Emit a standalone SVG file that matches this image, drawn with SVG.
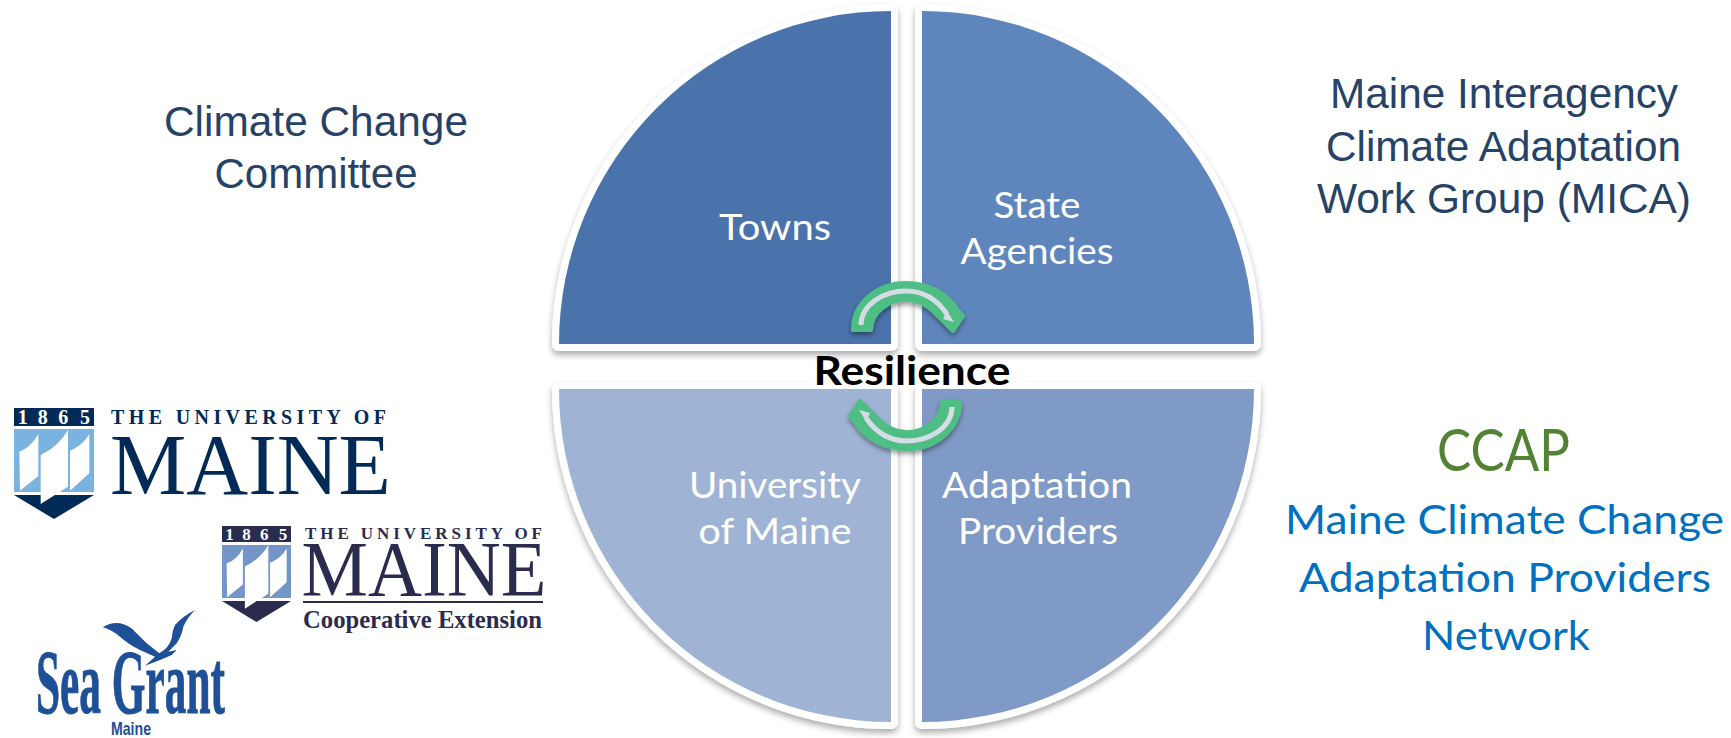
<svg xmlns="http://www.w3.org/2000/svg" xmlns:xlink="http://www.w3.org/1999/xlink" width="1731" height="738" viewBox="0 0 1731 738">
<style>
text{text-anchor:middle}
.q{stroke:#fff;stroke-width:14;stroke-linejoin:round;paint-order:stroke;filter:url(#sh)}
.ql{font:37px Lato,"Open Sans",sans-serif;fill:#fff}
.ar{font:43px "Liberation Sans",Arial,sans-serif;fill:#264367}
.lb{font:40px Lato,"Open Sans",sans-serif;fill:#0070C0}
.s1{fill:#012A57;font-family:"Liberation Serif",serif}
.s2{fill:#2A2C4E;font-family:"Liberation Serif",serif}
.sg{fill:#1D5096}
.grn{fill:#4FBE84;stroke:#4FBE84;stroke-width:4;stroke-linejoin:round}
.gry{fill:none;stroke:#D6DCE5;stroke-width:5}
</style>
<defs>
<filter id="sh" x="-8%" y="-8%" width="116%" height="116%"><feDropShadow dx="0" dy="4" stdDeviation="3" flood-color="#000" flood-opacity="0.32"/></filter>
<filter id="as" x="-20%" y="-20%" width="140%" height="150%"><feDropShadow dx="0" dy="3" stdDeviation="2.5" flood-color="#000" flood-opacity="0.4"/></filter>
<g id="sails" fill="#fff">
<path d="M58 185Q95 170 115 132L115 258L60 302Z"/>
<path d="M122 195Q175 170 204 120L204 290L122 342Z"/>
<path d="M210 182Q250 165 268 132L268 250L210 302Z"/>
</g>
<g id="arrow">
<path class="grn" d="M853 330C853 303 877 283 906 283C929 283 948 294 957 309L963 316L953 331L935 313C927 305 918 299.7 906 299.7C889 299.7 871 312 871 330Z"/>
<path class="gry" d="M861 325C861 305 883 291 906 291C924 291 938 301 947 314"/>
<path fill="#D6DCE5" d="M947 311L954 322L943 319Z"/>
</g>
</defs>
<rect width="1731" height="738" fill="#fff"/>

<g id="university-of-maine">
<path d="M559 389H891V722A332 333 0 0 1 559 389Z" class="q" fill="#9FB4D4"/>
<text class="ql" x="775" y="498" textLength="172" lengthAdjust="spacingAndGlyphs">University</text>
<text class="ql" x="775" y="544" textLength="153" lengthAdjust="spacingAndGlyphs">of Maine</text>
</g>
<g id="adaptation-providers">
<path d="M922 389H1254A332 333 0 0 1 922 722Z" class="q" fill="#7F9AC6"/>
<text class="ql" x="1037" y="498" textLength="190" lengthAdjust="spacingAndGlyphs">Adaptation</text>
<text class="ql" x="1038" y="544" textLength="160" lengthAdjust="spacingAndGlyphs">Providers</text>
</g>
<g id="towns">
<path d="M559 344A332 333 0 0 1 891 11V344Z" class="q" fill="#4873AA"/>
<text class="ql" x="775" y="240" textLength="112" lengthAdjust="spacingAndGlyphs">Towns</text>
</g>
<g id="state-agencies">
<path d="M922 11A332 333 0 0 1 1254 344H922Z" class="q" fill="#5F86BC"/>
<text class="ql" x="1037" y="218" textLength="87" lengthAdjust="spacingAndGlyphs">State</text>
<text class="ql" x="1037" y="264" textLength="153" lengthAdjust="spacingAndGlyphs">Agencies</text>
</g>

<g id="connectors">
<g filter="url(#as)"><use xlink:href="#arrow" href="#arrow"/></g>
<g filter="url(#as)"><use xlink:href="#arrow" href="#arrow" transform="rotate(180 906.5 366)"/></g>
</g>

<g id="resilience">
<text x="912" y="385" font-family="Lato,'Open Sans',sans-serif" font-weight="700" font-size="41" fill="#000" textLength="197" lengthAdjust="spacingAndGlyphs">Resilience</text>
</g>

<g id="climate-change-committee">
<text class="ar" x="316" y="136" textLength="304" lengthAdjust="spacingAndGlyphs">Climate Change</text>
<text class="ar" x="316" y="188" textLength="203" lengthAdjust="spacingAndGlyphs">Committee</text>
</g>
<g id="mica">
<text class="ar" x="1504" y="108" textLength="348" lengthAdjust="spacingAndGlyphs">Maine Interagency</text>
<text class="ar" x="1503.5" y="161" textLength="355" lengthAdjust="spacingAndGlyphs">Climate Adaptation</text>
<text class="ar" x="1504" y="213" textLength="374" lengthAdjust="spacingAndGlyphs">Work Group (MICA)</text>
</g>
<g id="ccap">
<text x="1503.500" y="471" font-family="Lato,'Open Sans',sans-serif" font-size="58" fill="#548235" textLength="133" lengthAdjust="spacingAndGlyphs">CCAP</text>
<text class="lb" x="1504.500" y="534" textLength="439" lengthAdjust="spacingAndGlyphs">Maine Climate Change</text>
<text class="lb" x="1505" y="592" textLength="412" lengthAdjust="spacingAndGlyphs">Adaptation Providers</text>
<text class="lb" x="1506" y="650" textLength="168" lengthAdjust="spacingAndGlyphs">Network</text>
</g>

<g id="logo-umaine">
<rect x="14" y="408" width="80" height="18" fill="#012A57"/>
<text class="s1" x="22.7 42.7 63.3 85" y="424" font-size="20" font-weight="700" style="fill:#fff">1865</text>
<rect x="14" y="429" width="80" height="63" fill="#7AB3E0"/>
<path d="M14 495H94L54 519Z" fill="#012A57"/>
<use xlink:href="#sails" href="#sails" transform="translate(0 390) scale(.3333)"/>
<text class="s1" x="248.500" y="424" font-size="20" font-weight="700" textLength="275" lengthAdjust="spacing">THE UNIVERSITY OF</text>
<text class="s1" x="250.500" y="494" font-size="87" textLength="281" lengthAdjust="spacingAndGlyphs">MAINE</text>
</g>
<g id="logo-extension">
<rect x="222" y="526" width="69" height="16" fill="#2A2C4E"/>
<text class="s2" x="229.5 246.6 264.3 283" y="540" font-size="17" font-weight="700" style="fill:#fff">1865</text>
<rect x="222" y="545" width="69" height="53" fill="#7395C7"/>
<path d="M222 601H291L256.500 622Z" fill="#2A2C4E"/>
<use xlink:href="#sails" href="#sails" transform="translate(210 510.500) scale(.286 .287)"/>
<text class="s2" x="423.500" y="539" font-size="17" font-weight="700" textLength="237" lengthAdjust="spacing">THE UNIVERSITY OF</text>
<text class="s2" x="424" y="595" font-size="78" textLength="245" lengthAdjust="spacingAndGlyphs">MAINE</text>
<rect x="303" y="601" width="240" height="2" fill="#2A2C4E"/>
<text class="s2" x="422.500" y="628" font-size="26" font-weight="700" textLength="239" lengthAdjust="spacingAndGlyphs">Cooperative Extension</text>
</g>
<g id="logo-seagrant">
<path class="sg" d="M102.700 627.300Q111 622 120 623.300Q129 625 135 631.700L146.700 643.300L159.300 653.300Q169 648 171.700 638.300Q172 631 175 625Q183 616 195 610Q187 618 183.300 626.700Q182 635 176.700 643.300L168.300 651.700L176.700 650L171.700 655L160 660L145 665.700L155 656.700L140 650Q128 644 120 636.700Q112 630 102.700 627.300Z"/>
<text class="sg" x="130.500" y="713" font-family="'Liberation Serif',serif" font-weight="700" font-size="92" stroke="#1D5096" stroke-width="1" textLength="189" lengthAdjust="spacingAndGlyphs">Sea Grant</text>
<text class="sg" x="131" y="735" font-family="'Liberation Sans Narrow','Liberation Sans',sans-serif" font-weight="700" font-size="19" textLength="40" lengthAdjust="spacingAndGlyphs">Maine</text>
</g>
</svg>
